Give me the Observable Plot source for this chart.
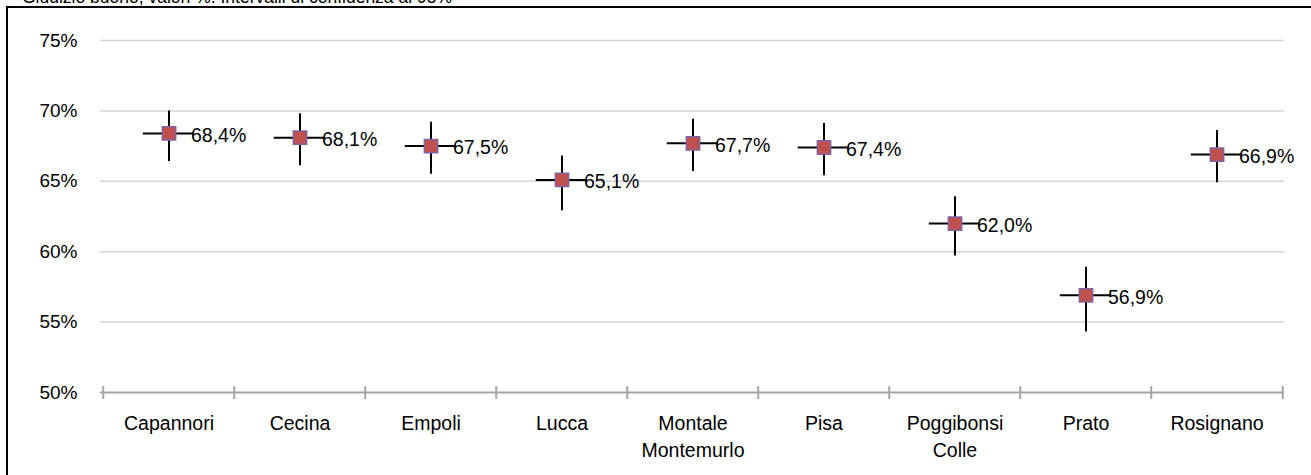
<!DOCTYPE html>
<html>
<head>
<meta charset="utf-8">
<script src="https://cdn.jsdelivr.net/npm/d3@7"></script>
<script src="https://cdn.jsdelivr.net/npm/@observablehq/plot@0.6"></script>
<style>
  html, body { margin: 0; padding: 0; background: #fff; overflow: hidden; width: 1311px; height: 475px; }
  body { position: relative; font-family: "Liberation Sans", Arial, sans-serif; }
  #title { position: absolute; left: 22px; top: -11px; font-size: 17.5px; line-height: 17.5px; color: #000; white-space: nowrap; }
  #frame { position: absolute; left: 6px; top: 6px; width: 1305px; height: 469px; box-sizing: border-box; border-left: 2.5px solid #000; border-top: 2.5px solid #000; }
  #chart { position: absolute; left: 0; top: 0; }
</style>
</head>
<body>
<div id="title">Giudizio buono, valori %. Intervalli di confidenza al 95%</div>
<div id="frame"></div>
<div id="chart"></div>
<script>
const categories = ["Capannori", "Cecina", "Empoli", "Lucca", "Montale\nMontemurlo", "Pisa", "Poggibonsi\nColle", "Prato", "Rosignano"];
const values = [68.4, 68.1, 67.5, 65.1, 67.7, 67.4, 62.0, 56.9, 66.9];
const lower  = [66.4, 66.1, 65.5, 62.9, 65.7, 65.4, 59.7, 54.3, 64.9];
const upper  = [70.0, 69.8, 69.2, 66.8, 69.4, 69.1, 63.9, 58.9, 68.6];
const yTicks = [50, 55, 60, 65, 70, 75];

const data = categories.map((c, i) => ({cat: c, v: values[i], lo: lower[i], hi: upper[i],
  label: values[i].toFixed(1).replace(".", ",") + "%"}));

const W = 1311, H = 475, mL = 100, mR = 27, mT = 40, mB = 83;
const bw = (W - mL - mR) / categories.length;
const edges = categories.map((c, i) => ({cat: c, side: -1})).concat([{cat: categories[categories.length - 1], side: 1}]);

const chart = Plot.plot({
  width: W, height: H,
  marginLeft: mL, marginRight: mR, marginTop: mT, marginBottom: mB,
  style: {fontFamily: "'Liberation Sans', Arial, sans-serif", fontSize: "19px", color: "#000", background: "transparent"},
  x: {domain: categories, padding: 0, label: null},
  y: {domain: [50, 75], label: null},
  marks: [
    Plot.gridY(yTicks.slice(1), {stroke: "#d4d4d4", strokeOpacity: 1, strokeWidth: 1.5}),
    Plot.axisY(yTicks, {tickSize: 0, tickPadding: 23, tickFormat: d => d + "%", fontSize: 19, label: null}),
    Plot.axisX({tickSize: 0, tickPadding: 18, fontSize: 19.5, lineHeight: 1.4, label: null}),
    Plot.ruleY([50], {stroke: "#a6a6a6", strokeWidth: 2}),
    Plot.ruleX(edges.filter(e => e.side < 0), {x: "cat", y1: 50, y2: 50, dx: -bw / 2, insetTop: -6, insetBottom: -7, stroke: "#a6a6a6", strokeWidth: 2}),
    Plot.ruleX(edges.filter(e => e.side > 0), {x: "cat", y1: 50, y2: 50, dx: bw / 2, insetTop: -6, insetBottom: -7, stroke: "#a6a6a6", strokeWidth: 2}),
    Plot.ruleX(data, {x: "cat", y1: "lo", y2: "hi", stroke: "#000", strokeWidth: 2}),
    Plot.tickY(data, {x: "cat", y: "v", stroke: "#000", strokeWidth: 2, insetLeft: bw / 2 - 26, insetRight: bw / 2 - 26}),
    Plot.dot(data, {x: "cat", y: "v", symbol: "square", r: 7.5, fill: "#c0504d", stroke: "#8064a2", strokeWidth: 1.5}),
    Plot.text(data, {x: "cat", y: "v", text: "label", textAnchor: "start", dx: 22, dy: 2, fontSize: 19.5, fill: "#000"})
  ]
});
document.getElementById("chart").appendChild(chart);
</script>
</body>
</html>
